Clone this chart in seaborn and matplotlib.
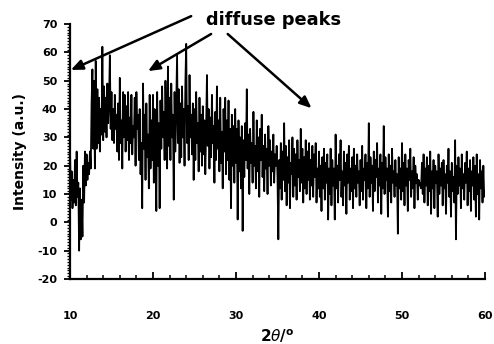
import matplotlib
matplotlib.use("Agg")
import matplotlib.pyplot as plt
from matplotlib.ticker import MultipleLocator
import numpy as np
import seaborn as sns

# XRD intensity, 0.1 degree steps from 10 to 60
int_10_15 = [26, 8, 18, 5, 15, 7, 22, 6, 25, 9, 14, -10, 12, -6, 8, -5, 20, 7, 25, 13,
             24, 15, 21, 17, 25, 19, 42, 54, 26, 50, 19, 57, 26, 47, 28, 44, 25, 40, 31, 62,
             29, 48, 32, 44, 30, 49, 35, 42, 59, 33]
int_15_20 = [46, 29, 40, 28, 45, 33, 38, 25, 42, 22, 51, 28, 36, 19, 46, 30, 45, 25, 41, 29,
             46, 22, 37, 28, 45, 24, 34, 30, 44, 20, 46, 33, 38, 22, 40, 17, 28, 5, 49, 26,
             38, 15, 42, 23, 31, 12, 45, 19, 36, 22]
int_20_25 = [45, 14, 40, 25, 4, 46, 20, 35, 5, 43, 26, 48, 30, 39, 22, 50, 33, 19, 55, 27,
             44, 22, 49, 30, 38, 8, 46, 25, 41, 59, 28, 47, 21, 42, 23, 48, 30, 40, 20, 49,
             63, 28, 41, 22, 52, 30, 38, 24, 42, 15]
int_25_30 = [40, 22, 46, 28, 35, 18, 44, 25, 38, 20, 41, 24, 36, 17, 33, 52, 27, 40, 19, 37,
             23, 45, 28, 34, 14, 39, 22, 48, 26, 36, 18, 44, 21, 32, 12, 40, 25, 44, 17, 36,
             22, 43, 15, 33, 5, 38, 20, 34, 14, 40]
int_30_35 = [21, 33, 1, 36, 18, 30, 12, 34, -3, 29, 16, 35, 22, 47, 19, 31, 10, 33, 21, 28,
             14, 39, 20, 27, 12, 36, 18, 30, 9, 33, 22, 38, 16, 27, 11, 31, 19, 26, 10, 34,
             20, 29, 13, 25, 18, 31, 14, 24, 20, 27]
int_35_40 = [16, -6, 22, 12, 28, 8, 25, 15, 35, 11, 27, 6, 23, 14, 29, 5, 21, 17, 30, 9,
             26, 13, 24, 8, 29, 16, 22, 11, 33, 14, 26, 7, 23, 12, 29, 10, 25, 15, 28, 8,
             22, 13, 27, 9, 24, 16, 28, 7, 19, 12]
int_40_45 = [25, 9, 20, 4, 23, 12, 26, 8, 21, 14, 24, 1, 19, 10, 26, 6, 22, 13, 19, 1,
             31, 12, 20, 7, 24, 15, 29, 9, 18, 6, 25, 13, 21, 3, 24, 14, 27, 8, 19, 11,
             23, 5, 26, 12, 20, 9, 24, 14, 18, 6]
int_45_50 = [22, 11, 27, 8, 19, 15, 24, 5, 21, 12, 35, 9, 23, 14, 20, 4, 25, 11, 22, 16,
             28, 7, 19, 13, 24, 3, 21, 12, 34, 10, 23, 15, 19, 2, 24, 11, 20, 7, 26, 14,
             18, 9, 22, 13, 17, -4, 23, 12, 19, 8]
int_50_55 = [28, 11, 21, 6, 24, 13, 19, 4, 22, 15, 26, 9, 18, 12, 23, 5, 20, 14, 17, 8,
             15, 13, 14, 12, 21, 10, 24, 7, 19, 13, 23, 6, 20, 11, 25, 3, 18, 12, 22, 5,
             20, 14, 18, 2, 24, 10, 19, 13, 21, 6]
int_55_60 = [22, 12, 17, 3, 20, 14, 26, 9, 18, 2, 21, 11, 16, 7, 29, -6, 20, 10, 23, 13,
             19, 5, 24, 12, 17, 8, 21, 14, 25, 6, 19, 11, 22, 4, 18, 13, 23, 8, 20, 2,
             24, 10, 17, 1, 22, 12, 18, 7, 20, 9, 11]

intensity = np.array(int_10_15 + int_15_20 + int_20_25 + int_25_30 + int_30_35
                     + int_35_40 + int_40_45 + int_45_50 + int_50_55 + int_55_60)
two_theta = np.linspace(10, 60, len(intensity))

annot_text = "diffuse peaks"
arrow_tails = [(24.6, 72.8), (27.0, 66.5), (29.0, 66.5)]
arrow_heads = [(10.1, 53.8), (19.4, 53.4), (39.1, 40.3)]

sns.set_style("ticks")
plt.rcParams["font.family"] = ["DejaVu Sans"]
plt.rcParams["axes.unicode_minus"] = False
for key in ["text.color", "axes.labelcolor", "xtick.color", "ytick.color"]:
    plt.rcParams[key] = "black"

fig = plt.figure(figsize=(4.94, 3.44), dpi=100)
ax = fig.add_axes([0.1417, 0.189, 0.8401, 0.741])

sns.lineplot(x=two_theta, y=intensity, color="black", linewidth=1.3,
             estimator=None, ax=ax)

ax.set_xlim(10, 60)
ax.set_ylim(-20, 70)
ax.xaxis.set_major_locator(MultipleLocator(10))
ax.xaxis.set_minor_locator(MultipleLocator(2))
ax.yaxis.set_major_locator(MultipleLocator(10))
ax.yaxis.set_minor_locator(MultipleLocator(1))

for side in ["top", "right"]:
    ax.spines[side].set_visible(False)
for side in ["left", "bottom"]:
    ax.spines[side].set_linewidth(1.6)
    ax.spines[side].set_color("black")

ax.tick_params(axis="x", which="major", direction="in", length=5, width=1.3,
               pad=23, labelsize=8)
ax.tick_params(axis="x", which="minor", direction="in", length=3, width=1.1)
ax.tick_params(axis="y", which="major", direction="out", length=4, width=1.3,
               pad=5, labelsize=8)
ax.tick_params(axis="y", which="minor", direction="out", length=2.5, width=0.9)
for lab in ax.get_xticklabels() + ax.get_yticklabels():
    lab.set_fontweight("bold")

ax.set_ylabel("Intensity (a.u.)", fontsize=10, fontweight="bold")
ax.yaxis.set_label_coords(-0.12, 0.5)
ax.yaxis.label.set_va("center")
ax.set_xlabel(r"2$\mathit{\theta}$/$^{\mathbf{o}}$", fontsize=11, fontweight="bold")
ax.xaxis.set_label_coords(0.5, -0.225)
ax.xaxis.label.set_va("center")

ax.text(34.5, 71.6, annot_text, ha="center", va="center", fontsize=12.8,
        fontweight="bold", clip_on=False)
for tail, head in zip(arrow_tails, arrow_heads):
    ax.annotate("", xy=head, xytext=tail, annotation_clip=False,
                arrowprops=dict(arrowstyle="-|>,head_length=0.7,head_width=0.3",
                                color="black", lw=1.8, shrinkA=0, shrinkB=0))

fig.savefig("out.png", dpi=100)
